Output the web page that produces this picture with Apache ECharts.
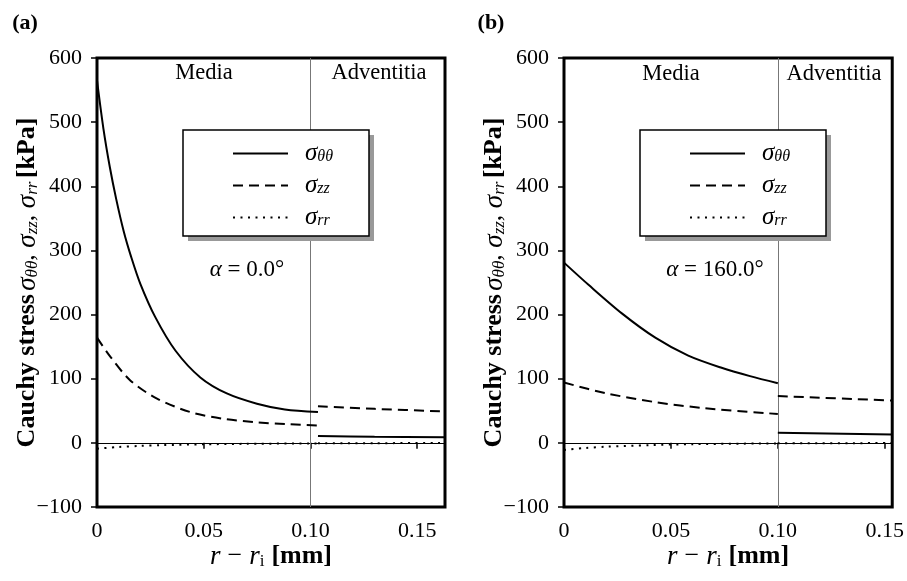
<!DOCTYPE html>
<html><head><meta charset="utf-8">
<script src="https://cdn.jsdelivr.net/npm/echarts@6/dist/echarts.min.js"></script>
<style>html,body{margin:0;padding:0;background:#fff}#c{width:907px;height:581px}</style>
</head><body><div id="c"></div>
<script>
// ---- data: panel (a), alpha = 0.0 deg ----
const aBoundary = 0.1035, aXMax = 0.163;
const aMediaThetaX = [0, 0.003, 0.006, 0.009, 0.0125, 0.016, 0.0203, 0.0273, 0.0367, 0.0484, 0.0608, 0.0749, 0.088, 0.1035];
const aMediaThetaY = [565, 490, 430, 380, 330, 290, 248, 196, 144, 102, 77, 61, 52, 48];
const aMediaZzX = [0, 0.0063, 0.0157, 0.0281, 0.0437, 0.0593, 0.0749, 0.09, 0.1035];
const aMediaZzY = [164, 134, 97, 69, 48, 37.5, 32, 29, 27];
const aMediaRrX = [0, 0.01, 0.02, 0.03, 0.05, 0.07, 0.1035];
const aMediaRrY = [-9, -6.5, -4.8, -3.6, -2.3, -1.5, -0.8];
const aAdvX = [0.1035, 0.13, 0.163];
const aAdvThetaY = [10.5, 9.5, 8.8];
const aAdvZzY = [57, 53, 49];
const aAdvRrY = [-0.8, -0.5, -0.2];
// ---- data: panel (b), alpha = 160.0 deg ----
const bBoundary = 0.1, bXMax = 0.1535;
const bMediaThetaX = [0, 0.0116, 0.0272, 0.0427, 0.0581, 0.0737, 0.087, 0.1];
const bMediaThetaY = [281, 246, 201.5, 164, 136, 117, 104, 93];
const bMediaZzX = [0, 0.0194, 0.0427, 0.0659, 0.1];
const bMediaZzY = [94, 77.5, 63.5, 54, 45];
const bMediaRrX = [0, 0.01, 0.02, 0.04, 0.06, 0.1];
const bMediaRrY = [-11, -8, -6, -3.5, -2, -0.8];
const bAdvX = [0.1, 0.1535];
const bAdvThetaY = [15.6, 13];
const bAdvZzY = [73, 66];
const bAdvRrY = [-0.8, -0.3];
// ---- axes ----
const yMin = -100, yMax = 600, yStep = 100;
const xStep = 0.05;
const names = ['σθθ', 'σzz', 'σrr'];
const subs = ['θθ', 'zz', 'rr'];

const zip = (xs, ys) => xs.map((x, i) => [x, ys[i]]);
const SERIF = '"Liberation Serif", "DejaVu Serif", serif';
const styles = [
  {type: 'solid', width: 2},
  {type: [10, 6], width: 2},
  {type: [2, 5.5], width: 2}
];
function line(name, gi, data, k, extra) {
  return Object.assign({
    type: 'line', name, xAxisIndex: gi, yAxisIndex: gi, data,
    showSymbol: false, symbol: 'none', smooth: 0.3, silent: true,
    lineStyle: Object.assign({color: '#000'}, styles[k]), itemStyle: {color: '#000'},
    z: 5
  }, extra || {});
}
function refLines(boundary) {
  return {
    silent: true, symbol: 'none', label: {show: false}, animation: false,
    data: [
      {yAxis: 0, lineStyle: {color: '#000', width: 1.2, type: 'solid'}},
      {xAxis: boundary, lineStyle: {color: '#777', width: 1, type: 'solid'}}
    ]
  };
}
const rich = {
  b: {fontFamily: SERIF, fontWeight: 'bold', fontSize: 26, color: '#000'},
  n: {fontFamily: SERIF, fontSize: 26, color: '#000'},
  s: {fontFamily: SERIF, fontStyle: 'italic', fontSize: 27, color: '#000'},
  sp: {fontFamily: SERIF, fontSize: 26, color: '#000', width: 7},
  sub: {fontFamily: SERIF, fontStyle: 'italic', fontSize: 17, color: '#000', verticalAlign: 'bottom', padding: [10, 0, 0, 0]},
  subu: {fontFamily: SERIF, fontSize: 17, color: '#000', padding: [10, 0, 0, 0]}
};
const legRich = {
  s: {fontFamily: SERIF, fontStyle: 'italic', fontSize: 25, color: '#000'},
  sub: {fontFamily: SERIF, fontStyle: 'italic', fontSize: 16, color: '#000', verticalAlign: 'bottom', padding: [9, 0, 0, 0]}
};
function legendFmt(name) { const i = names.indexOf(name); return '{s|σ}{sub|' + subs[i] + '}'; }

function xAxis(gi, max) {
  return {
    type: 'value', gridIndex: gi, min: 0, max: max, interval: xStep,
    axisLine: {show: false}, splitLine: {show: false},
    axisTick: {show: true, inside: false, length: 6, lineStyle: {color: '#000', width: 1.5}},
    axisLabel: {color: '#000', fontFamily: SERIF, fontSize: 22, margin: 13,
      formatter: v => v === 0 ? '0' : (Math.abs(v / xStep - Math.round(v / xStep)) < 1e-6 ? v.toFixed(2) : '')},
    name: '{s|r}{sp| }{n|−}{sp| }{s|r}{subu|i}{sp| }{b|[mm]}', nameLocation: 'middle', nameGap: 36,
    nameMoveOverlap: false,
    nameTextStyle: {rich}
  };
}
function yAxis(gi) {
  return {
    type: 'value', gridIndex: gi, min: yMin, max: yMax, interval: yStep,
    axisLine: {show: false}, splitLine: {show: false},
    axisTick: {show: true, inside: false, length: 6, lineStyle: {color: '#000', width: 1.5}},
    axisLabel: {color: '#000', fontFamily: SERIF, fontSize: 22, margin: 15,
      formatter: v => v < 0 ? '−' + Math.abs(v) : String(v)},
    name: '{b|Cauchy stress} {s|σ}{sub|θθ}{n|, }{s|σ}{sub|zz}{n|, }{s|σ}{sub|rr} {b|[kPa]}',
    nameLocation: 'middle', nameGap: 56, nameMoveOverlap: false, nameTextStyle: {rich}
  };
}
function legend(left) {
  return {
    data: names, orient: 'vertical', left: left, top: 130, selectedMode: false, z: 30,
    itemWidth: 55, itemHeight: 14, itemGap: 7, padding: [11, 0, 0, 49],
    backgroundColor: 'transparent', borderWidth: 0,
    itemStyle: {opacity: 0},
    formatter: legendFmt,
    textStyle: {rich: legRich, padding: [0, 0, 0, 12], lineHeight: 22}
  };
}
function box(x, y, w, h) {
  return [
    {type: 'rect', silent: true, z: 19, shape: {x: x + 5, y: y + 5, width: w, height: h}, style: {fill: '#999'}},
    {type: 'rect', silent: true, z: 20, shape: {x, y, width: w, height: h}, style: {fill: '#fff', stroke: '#000', lineWidth: 1.5}}
  ];
}
function txt(x, y, text, font, r) {
  return {type: 'text', x, y, silent: true, z: 10,
    style: {text, font, fill: '#000', align: 'center', verticalAlign: 'middle', rich: r}};
}
const annRich = {i: {fontFamily: SERIF, fontStyle: 'italic', fontSize: 23}};

const option = {
  animation: false,
  backgroundColor: '#fff',
  grid: [
    {left: 97, top: 58, width: 348, height: 449, show: true, borderColor: '#000', borderWidth: 3, backgroundColor: 'transparent'},
    {left: 564, top: 58, width: 329, height: 449, show: true, borderColor: '#000', borderWidth: 3, backgroundColor: 'transparent'}
  ],
  xAxis: [xAxis(0, aXMax), xAxis(1, bXMax)],
  yAxis: [yAxis(0), yAxis(1)],
  legend: [legend(183), legend(640)],
  series: [
    line(names[2], 0, zip(aMediaRrX, aMediaRrY), 2, {markLine: refLines(aBoundary)}),
    line(names[0], 0, zip(aMediaThetaX, aMediaThetaY), 0),
    line(names[1], 0, zip(aMediaZzX, aMediaZzY), 1),
    line(names[0], 0, zip(aAdvX, aAdvThetaY), 0),
    line(names[1], 0, zip(aAdvX, aAdvZzY), 1),
    line(names[2], 0, zip(aAdvX, aAdvRrY), 2),
    line(names[2], 1, zip(bMediaRrX, bMediaRrY), 2, {markLine: refLines(bBoundary)}),
    line(names[0], 1, zip(bMediaThetaX, bMediaThetaY), 0),
    line(names[1], 1, zip(bMediaZzX, bMediaZzY), 1),
    line(names[0], 1, zip(bAdvX, bAdvThetaY), 0),
    line(names[1], 1, zip(bAdvX, bAdvZzY), 1),
    line(names[2], 1, zip(bAdvX, bAdvRrY), 2)
  ],
  graphic: [].concat(
    box(183, 130, 186, 106),
    box(640, 130, 186, 106),
    [
      txt(25, 23, '(a)', 'bold 22px ' + SERIF),
      txt(491, 23, '(b)', 'bold 22px ' + SERIF),
      txt(204, 73, 'Media', '22.5px ' + SERIF),
      txt(379, 73, 'Adventitia', '22.5px ' + SERIF),
      txt(671, 74, 'Media', '22.5px ' + SERIF),
      txt(834, 74, 'Adventitia', '22.5px ' + SERIF),
      txt(247, 270, '{i|α} = 0.0°', '23px ' + SERIF, annRich),
      txt(715, 270, '{i|α} = 160.0°', '23px ' + SERIF, annRich)
    ])
};
const chart = echarts.init(document.getElementById('c'), null, {renderer: 'canvas'});
chart.setOption(option);
</script></body></html>
